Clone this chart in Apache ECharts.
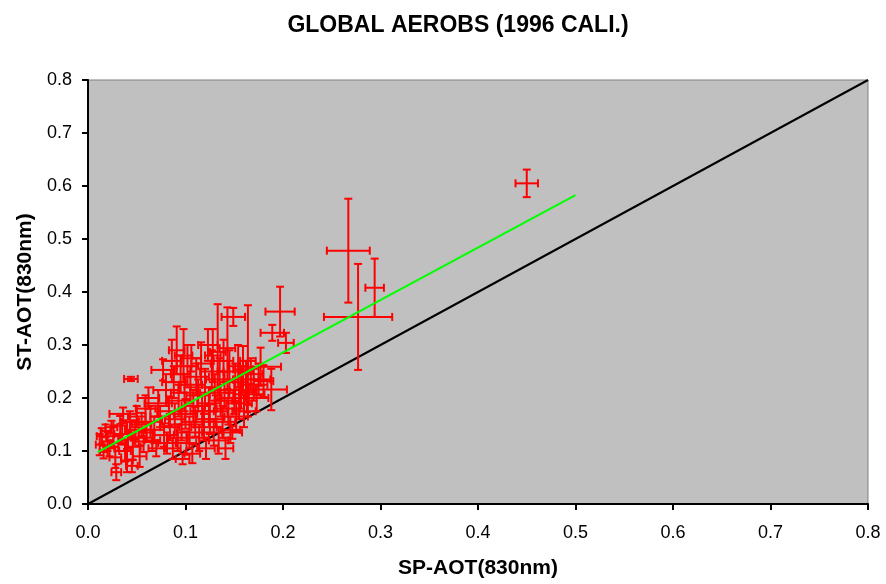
<!DOCTYPE html>
<html>
<head>
<meta charset="utf-8">
<script src="https://cdn.jsdelivr.net/npm/echarts@6/dist/echarts.min.js"></script>
<style>html,body{margin:0;padding:0;background:#fff;}#c{width:886px;height:584px;}</style>
</head>
<body>
<div id="c"></div>
<script>
// SP-AOT (x) values
const spAOT = [0.012,0.014,0.016,0.018,0.020,0.022,0.024,0.026,0.028,0.029,0.031,0.033,0.035,0.036,0.038,0.040,0.041,0.043,0.044,0.045,
0.046,0.048,0.050,0.052,0.053,0.055,0.057,0.059,0.060,0.062,0.064,0.066,0.068,0.070,0.072,0.074,0.077,0.078,0.080,0.081,
0.083,0.084,0.086,0.087,0.088,0.089,0.091,0.092,0.093,0.095,0.096,0.097,0.098,0.099,0.100,0.101,0.102,0.104,0.105,0.106,
0.107,0.108,0.110,0.111,0.113,0.114,0.116,0.117,0.119,0.120,0.121,0.123,0.124,0.125,0.127,0.128,0.129,0.130,0.131,0.133,
0.134,0.135,0.136,0.138,0.139,0.140,0.141,0.143,0.144,0.145,0.146,0.148,0.149,0.150,0.151,0.152,0.154,0.155,0.157,0.159,
0.160,0.162,0.163,0.164,0.165,0.167,0.170,0.173,0.175,0.177,0.180,0.188,0.189,0.197,0.203,0.267,0.277,0.294,0.450];
// ST-AOT (y) values
const stAOT = [0.112,0.128,0.098,0.138,0.118,0.105,0.145,0.128,0.088,0.060,0.115,0.148,0.132,0.170,0.100,0.082,0.122,0.155,0.236,0.072,
0.108,0.140,0.165,0.125,0.090,0.150,0.118,0.180,0.135,0.200,0.155,0.120,0.140,0.105,0.190,0.165,0.253,0.130,0.215,0.115,
0.175,0.145,0.270,0.105,0.230,0.160,0.290,0.125,0.195,0.245,0.150,0.085,0.280,0.210,0.170,0.115,0.260,0.135,0.225,0.275,
0.095,0.185,0.155,0.240,0.205,0.125,0.265,0.175,0.145,0.220,0.105,0.300,0.190,0.160,0.250,0.280,0.135,0.210,0.175,0.287,
0.120,0.235,0.195,0.155,0.270,0.215,0.105,0.294,0.180,0.250,0.140,0.135,0.353,0.200,0.230,0.165,0.260,0.190,0.215,0.254,
0.175,0.235,0.211,0.270,0.207,0.245,0.225,0.200,0.235,0.259,0.232,0.216,0.323,0.363,0.304,0.478,0.353,0.408,0.605];
// SP-AOT uncertainty (horizontal error)
const spErr = [0.004,0.005,0.004,0.005,0.006,0.005,0.006,0.007,0.006,0.005,0.008,0.007,0.008,0.014,0.006,0.006,0.008,0.009,0.007,0.006,
0.008,0.010,0.009,0.008,0.007,0.010,0.009,0.010,0.008,0.011,0.012,0.008,0.010,0.008,0.014,0.010,0.012,0.010,0.013,0.009,
0.012,0.010,0.010,0.008,0.012,0.010,0.008,0.010,0.012,0.010,0.013,0.007,0.009,0.014,0.012,0.010,0.011,0.013,0.012,0.010,
0.008,0.012,0.014,0.013,0.012,0.010,0.010,0.012,0.013,0.015,0.009,0.010,0.012,0.014,0.012,0.008,0.010,0.015,0.012,0.008,
0.010,0.014,0.012,0.013,0.010,0.015,0.008,0.008,0.012,0.012,0.010,0.010,0.012,0.013,0.012,0.012,0.010,0.013,0.012,0.010,
0.012,0.013,0.008,0.008,0.016,0.012,0.014,0.012,0.012,0.021,0.010,0.016,0.012,0.015,0.008,0.022,0.035,0.0095,0.0115];
// ST-AOT uncertainty (vertical error)
const stErr = [0.020,0.015,0.012,0.012,0.018,0.015,0.012,0.020,0.020,0.015,0.015,0.018,0.020,0.012,0.020,0.022,0.015,0.020,0.004,0.012,
0.025,0.018,0.020,0.015,0.020,0.022,0.020,0.025,0.018,0.020,0.030,0.020,0.025,0.015,0.025,0.020,0.020,0.022,0.030,0.020,
0.028,0.025,0.040,0.020,0.030,0.030,0.045,0.025,0.030,0.035,0.030,0.010,0.050,0.035,0.028,0.022,0.040,0.030,0.035,0.025,
0.018,0.030,0.028,0.035,0.030,0.025,0.040,0.030,0.025,0.035,0.020,0.030,0.030,0.028,0.040,0.050,0.025,0.035,0.030,0.090,
0.025,0.040,0.030,0.030,0.040,0.035,0.020,0.077,0.030,0.040,0.025,0.012,0.017,0.030,0.035,0.028,0.040,0.030,0.035,0.044,
0.030,0.035,0.038,0.105,0.020,0.030,0.030,0.025,0.030,0.036,0.030,0.039,0.015,0.047,0.019,0.098,0.100,0.055,0.026];
// regression line endpoints
const fitX = [0.01, 0.50];
const fitY = [0.098, 0.583];
// 1:1 line endpoints
const oneX = [0.0, 0.8];
const oneY = [0.0, 0.8];
const tickValues = [0.0,0.1,0.2,0.3,0.4,0.5,0.6,0.7,0.8];

const errData = spAOT.map((x,i)=>[x, stAOT[i], spErr[i], stErr[i]]);
const FONT = 'Liberation Sans, Arial, sans-serif';

function renderErr(params, api){
  const x = api.value(0), y = api.value(1), xe = api.value(2), ye = api.value(3);
  const l = api.coord([x-xe, y]), r = api.coord([x+xe, y]);
  const t = api.coord([x, y+ye]), b = api.coord([x, y-ye]);
  const c = 4;
  const st = {stroke:'#FF0000', lineWidth:2};
  const ln = (x1,y1,x2,y2)=>({type:'line', shape:{x1,y1,x2,y2}, style:st});
  return {type:'group', children:[
    ln(l[0],l[1],r[0],r[1]),
    ln(t[0],t[1],b[0],b[1]),
    ln(l[0],l[1]-c,l[0],l[1]+c),
    ln(r[0],r[1]-c,r[0],r[1]+c),
    ln(t[0]-c,t[1],t[0]+c,t[1]),
    ln(b[0]-c,b[1],b[0]+c,b[1])
  ]};
}

const axisCommon = {
  type:'value', min:0, max:0.8, interval:0.1,
  axisLine:{show:true, onZero:false, lineStyle:{color:'#000', width:2}},
  axisTick:{show:true, length:6, lineStyle:{color:'#000', width:2}},
  splitLine:{show:false},
  nameLocation:'middle',
  nameTextStyle:{fontFamily:FONT, fontWeight:'bold', fontSize:21, color:'#000'}
};

const chart = echarts.init(document.getElementById('c'), null, {renderer:'canvas'});
chart.setOption({
  animation:false,
  backgroundColor:'#fff',
  title:{text:'GLOBAL AEROBS (1996 CALI.)', left:453, textAlign:'center', top:9,
    textStyle:{fontFamily:FONT, fontWeight:'bold', fontSize:23, color:'#000'}},
  grid:{left:88, right:18, top:80, bottom:79, show:true, backgroundColor:'#C0C0C0', borderColor:'#808080', borderWidth:1},
  xAxis:Object.assign({}, axisCommon, {name:'SP-AOT(830nm)', nameGap:54,
    axisLabel:{margin:20, fontFamily:FONT, fontSize:18, color:'#000', formatter:v=>v.toFixed(1)}}),
  yAxis:Object.assign({}, axisCommon, {name:'ST-AOT(830nm)', nameGap:50,
    axisLabel:{margin:16, fontFamily:FONT, fontSize:18, color:'#000', formatter:v=>v.toFixed(1)}}),
  series:[
    {type:'line', data:oneX.map((x,i)=>[x,oneY[i]]), symbol:'none', lineStyle:{color:'#000', width:2}, z:1},
    {type:'custom', renderItem:renderErr, data:errData, encode:{x:0,y:1}, z:2},
    {type:'line', data:fitX.map((x,i)=>[x,fitY[i]]), symbol:'none', lineStyle:{color:'#00FF00', width:2}, z:3}
  ]
});
</script>
</body>
</html>
